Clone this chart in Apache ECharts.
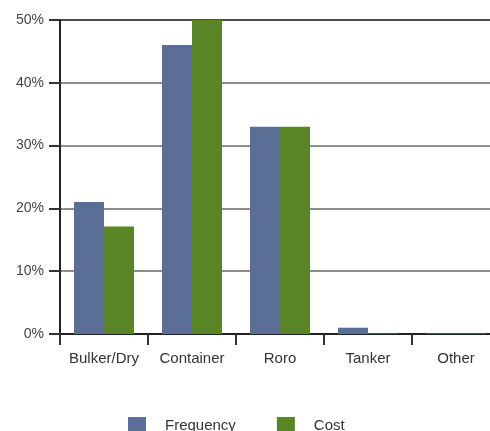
<!DOCTYPE html>
<html>
<head>
<meta charset="utf-8">
<style>
  html, body { margin: 0; padding: 0; background: #fff; overflow: hidden; }
  #chart { width: 500px; height: 431px; }
</style>
<script src="https://cdn.jsdelivr.net/npm/echarts@6/dist/echarts.min.js"></script>
</head>
<body>
<div id="chart"></div>
<script>
// Share of incidents by vessel type
const categories = ['Bulker/Dry', 'Container', 'Roro', 'Tanker', 'Other'];
const frequency = [21, 46, 33, 1, 0.1];
const cost = [17.1, 50, 33, 0.1, 0.1];
const yTicks = [0, 10, 20, 30, 40, 50];

const chart = echarts.init(document.getElementById('chart'));
const font = '"Liberation Sans", Arial, sans-serif';

chart.setOption({
  animation: false,
  grid: { left: 60, top: 20, right: 0, bottom: 97 },
  legend: {
    top: 417,
    left: 128,
    padding: 0,
    itemWidth: 18,
    itemHeight: 17,
    itemGap: 41,
    icon: 'rect',
    textStyle: { fontFamily: font, fontSize: 15, color: '#333', padding: [0, 0, 0, 14] },
    data: ['Frequency', 'Cost']
  },
  xAxis: {
    type: 'category',
    data: categories,
    axisLine: { lineStyle: { color: '#222', width: 2 } },
    axisTick: { show: true, interval: 0, length: 11, lineStyle: { color: '#333', width: 2 } },
    axisLabel: { interval: 0, fontFamily: font, fontSize: 15, color: '#333', margin: 17 }
  },
  yAxis: {
    type: 'value',
    min: yTicks[0],
    max: yTicks[yTicks.length - 1],
    interval: 10,
    axisLine: { show: true, lineStyle: { color: '#222', width: 2 } },
    axisTick: { show: true, length: 11, lineStyle: { color: '#333', width: 2 } },
    axisLabel: { fontFamily: font, fontSize: 14, color: '#444', margin: 16, formatter: '{value}%' },
    splitLine: { lineStyle: { color: ['#333', '#8e8e8e', '#8e8e8e', '#8e8e8e', '#8e8e8e', '#4a4a4a'], width: 2 } }
  },
  series: [
    {
      name: 'Frequency',
      type: 'bar',
      data: frequency,
      barWidth: 30,
      barGap: '0%',
      itemStyle: { color: '#5a6e96' }
    },
    {
      name: 'Cost',
      type: 'bar',
      data: cost,
      barWidth: 30,
      itemStyle: { color: '#5a8527' }
    }
  ]
});
</script>
</body>
</html>
